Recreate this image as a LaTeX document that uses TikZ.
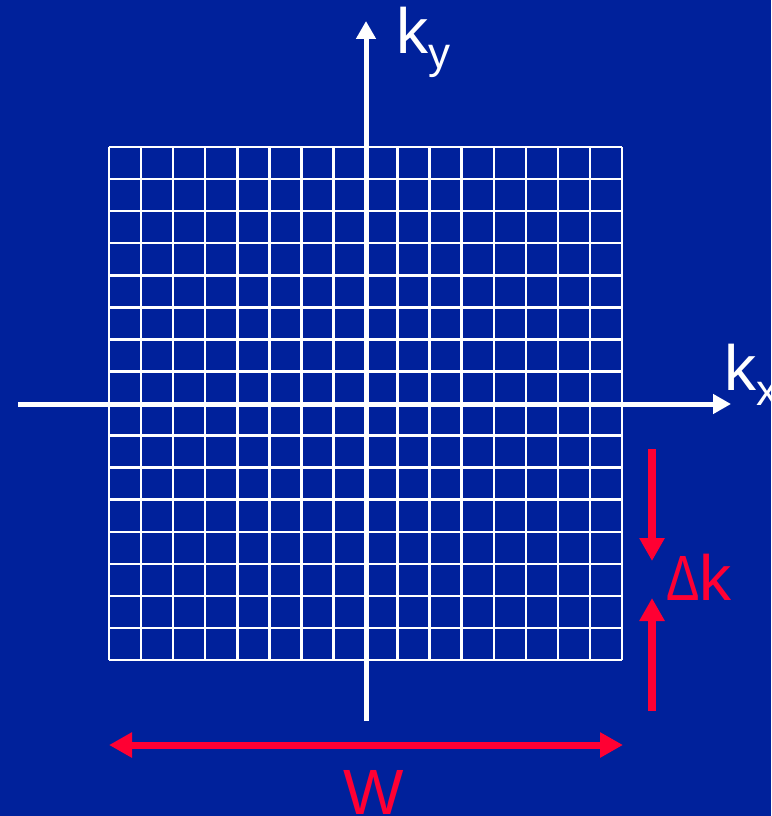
\documentclass[tikz,border=0pt]{standalone}
\usepackage{fontspec}
\setmainfont{Liberation Sans}
\usetikzlibrary{arrows.meta, positioning, calc}
\definecolor{slideblue}{RGB}{0,33,155}
\definecolor{slidered}{RGB}{255,0,51}

\begin{document}
\begin{tikzpicture}[x=1pt, y=-1pt,
    every node/.style={inner sep=0pt, font=\fontsize{64}{70}\selectfont},
    gridline/.style={white, line width=2.5pt},
    axis/.style={white, line width=5pt, -{Triangle[length=18pt, width=19pt]}},
    gap/.style={slidered, line width=7.5pt, -{Triangle[length=23pt, width=24pt]}},
    span/.style={slidered, line width=7pt, {Triangle[length=23pt, width=24pt]}-{Triangle[length=23pt, width=24pt]}}]
  \fill[slideblue] (0,0) rectangle (771,816);
  \useasboundingbox (0,0) rectangle (771,816);
  % grid of k-space samples
  \foreach \i in {0,...,16} {
    \draw[gridline] ({109+32.0625*\i},147) -- ({109+32.0625*\i},660);
    \draw[gridline] (109,{147+32.0625*\i}) -- (622,{147+32.0625*\i});
  }
  % axes
  \coordinate (xfrom) at (18,404);   \coordinate (xto) at (731,404);
  \coordinate (yfrom) at (366,721);  \coordinate (yto) at (366,21);
  \draw[axis] (xfrom) -- (xto);
  \draw[axis] (yfrom) -- (yto);
  \node[text=white, anchor=base west] (ky) at (396,53) {k\raisebox{-15pt}{\fontsize{44}{48}\selectfont y}};
  \node[text=white, anchor=base west] (kx) at (724,390) {k\raisebox{-15pt}{\fontsize{44}{48}\selectfont x}};
  % spacing and width
  \coordinate (dtop) at (652,449);  \coordinate (dtopend) at (652,561);
  \coordinate (dbot) at (652,711);  \coordinate (dbotend) at (652,598);
  \draw[gap] (dtop) -- (dtopend);
  \draw[gap] (dbot) -- (dbotend);
  \node[text=slidered, anchor=base west] (dk) at (666,600) {\scalebox{0.78}[1]{Δ}k};
  \coordinate (wleft) at (109,745); \coordinate (wright) at (623,745);
  \draw[span] (wleft) -- (wright);
  \node[text=slidered, anchor=base west] (w) at (343,814) {W};
\end{tikzpicture}
\end{document}
